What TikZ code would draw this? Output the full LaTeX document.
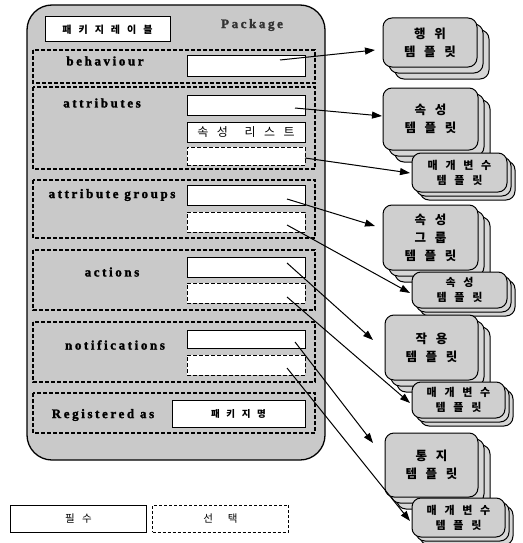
\documentclass[tikz,border=0pt]{standalone}
\usepackage{fontspec}
\setmainfont{Liberation Serif}
\newfontfamily\lat[LetterSpace=20, BoldFeatures={FakeBold=1.8}]{Liberation Serif}
\newfontfamily\kr{Noto Sans CJK KR}
\usetikzlibrary{arrows.meta}
\newcommand\g{\hspace{0.7em}}
\newcommand\tplcard[8][]{%
  \foreach \k in {2,1}{\node[cardback, minimum width=#5pt, minimum height=#6pt] at ({#3+\k*#7},{#4+\k*#7}) {};}
  \node[card, minimum width=#5pt, minimum height=#6pt, #1] (#2) at (#3,#4) {#8};
}
\begin{document}
\begin{tikzpicture}[x=1pt,y=-1pt,
  pkg/.style={draw, line width=1.3pt, fill=gray!42, rounded corners=25pt},
  grp/.style={draw, line width=1.1pt, dash pattern=on 4pt off 2pt},
  slot/.style={draw, fill=white, line width=1pt, minimum width=118pt, minimum height=20pt, inner sep=0pt, font=\kr\fontsize{10}{12}\selectfont},
  oslot/.style={slot, dash pattern=on 4pt off 2pt},
  lbl/.style={font=\lat\bfseries\fontsize{13}{15}\selectfont},
  card/.style={draw, line width=1pt, fill=gray!38, rounded corners=9pt, align=center, inner sep=0pt, font=\kr\bfseries\fontsize{12.5}{18}\selectfont},
  smallcard/.style={font=\kr\bfseries\fontsize{11}{15}\selectfont},
  cardback/.style={draw, line width=1pt, fill=gray!32, rounded corners=9pt, inner sep=0pt},
  arr/.style={line width=1pt, -{Triangle[length=10pt, width=7pt]}},
  legend/.style={draw, line width=0.8pt, minimum width=136pt, minimum height=27pt, inner sep=0pt, font=\kr\fontsize{10.5}{12}\selectfont}
]
\useasboundingbox (0,0) rectangle (522,543);

% package
\draw[pkg] (27,5) rectangle (325,460);
\node[draw, fill=white, line width=1pt, minimum width=125pt, minimum height=25pt, inner sep=0pt, font=\kr\bfseries\fontsize{10}{12}\selectfont] (plabel) at (107.5,29.5) {패\g 키\g 지\g 레\g 이\g 블};
\node[lbl, text=black!80] (ptitle) at (252,25) {Package};

% groups
\draw[grp] (33,50) rectangle (315,83);
\draw[grp] (33,87) rectangle (315,169);
\draw[grp] (33,180) rectangle (315,238);
\draw[grp] (33,250) rectangle (315,310);
\draw[grp] (33,322) rectangle (315,382);
\draw[grp] (33,393) rectangle (315,433);

\node[lbl] (lb1) at (105,61) {behaviour};
\node[lbl] (lb2) at (102,103) {attributes};
\node[lbl] (lb3) at (112,195) {attribute groups};
\node[lbl] (lb4) at (112,272) {actions};
\node[lbl] (lb5) at (115,345) {notifications};
\node[lbl] (lb6) at (103,415) {Registered as};

% slots
\node[slot, minimum height=21pt] (s1) at (246,66) {};
\node[slot] (s2) at (246,105) {};
\node[slot, font=\kr\fontsize{12}{14}\selectfont] (slist) at (246,132) {속\g 성\g\g 리\g 스\g 트};
\node[oslot, minimum height=18pt] (s3) at (246,156) {};
\node[slot] (s4) at (246,195) {};
\node[oslot] (s5) at (246,222) {};
\node[slot] (s6) at (246,267) {};
\node[oslot] (s7) at (246,293) {};
\node[slot, minimum height=18pt] (s8) at (246,339) {};
\node[oslot] (s9) at (246,365) {};
\node[slot, minimum width=133pt, minimum height=27pt, font=\kr\bfseries\fontsize{9.5}{12}\selectfont] (sname) at (238.5,413.5) {패\g 키\g 지\g 명};

% legend
\node[legend] (must) at (78.5,518.5) {필\g 수};
\node[legend, dash pattern=on 3pt off 2pt] (opt) at (220.5,518.5) {선\g\g 택};

% template cards
\tplcard{c1}{430}{42.5}{94}{49}{6}{행\g 위\\템\g 플\g 릿}
\tplcard{c2}{430.5}{119}{95}{62}{6}{속\g 성\\템\g 플\g 릿}
\tplcard[smallcard]{c3}{459.5}{172.5}{95}{39}{4}{매\g 개\g 변\g 수\\템\g 플\g 릿}
\tplcard{c4}{430.5}{237.5}{95}{65}{6}{속\g 성\\그\g 룹\\템\g 플\g 릿}
\tplcard[smallcard]{c5}{459.5}{290}{95}{36}{4}{속\g 성\\템\g 플\g 릿}
\tplcard{c6}{431.5}{347.5}{93}{65}{6}{작\g 용\\템\g 플\g 릿}
\tplcard[smallcard]{c7}{458.5}{400}{93}{36}{4}{매\g 개\g 변\g 수\\템\g 플\g 릿}
\tplcard{c8}{431.5}{465}{93}{64}{6}{통\g 지\\템\g 플\g 릿}
\tplcard[smallcard]{c9}{458.5}{517.5}{93}{39}{4}{매\g 개\g 변\g 수\\템\g 플\g 릿}

% arrow ends
\coordinate (a1) at (280,60);  \coordinate (t1) at (375,50);
\coordinate (a2) at (295,108); \coordinate (t2) at (382,116);
\coordinate (a3) at (305,158); \coordinate (t3) at (410,173);
\coordinate (a4) at (287,199); \coordinate (t4) at (375,226);
\coordinate (a5) at (287,225); \coordinate (t5) at (410,293);
\coordinate (a6) at (287,263); \coordinate (t6) at (373,340);
\coordinate (a7) at (287,297); \coordinate (t7) at (410,403);
\coordinate (a8) at (295,342); \coordinate (t8) at (373,443);
\coordinate (a9) at (287,368); \coordinate (t9) at (410,521);
\foreach \i in {1,...,9}{\draw[arr] (a\i) -- (t\i);}
\end{tikzpicture}
\end{document}
